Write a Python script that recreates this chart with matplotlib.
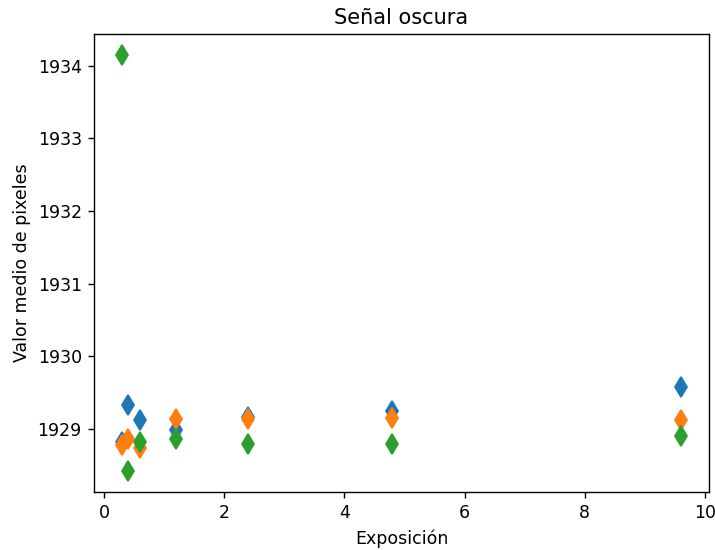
import matplotlib
matplotlib.use('Agg')
import matplotlib.pyplot as plt

# Exposure times and mean pixel value for three dark frames per exposure
exposicion = [0.3, 0.4, 0.6, 1.2, 2.4, 4.8, 9.6]
serie_1 = [1928.82, 1929.33, 1929.12, 1928.99, 1929.16, 1929.25, 1929.58]
serie_2 = [1928.78, 1928.86, 1928.74, 1929.14, 1929.14, 1929.15, 1929.12]
serie_3 = [1934.15, 1928.42, 1928.82, 1928.86, 1928.79, 1928.79, 1928.90]

fig = plt.figure(figsize=(5.72, 4.4), dpi=125)
ax = fig.add_axes([94/715, 1 - 492/550, 615/715, 458/550])

for serie in (serie_1, serie_2, serie_3):
    ax.plot(exposicion, serie, 'd', ms=8)

ax.set_title('Señal oscura')
ax.set_xlabel('Exposición')
ax.set_ylabel('Valor medio de pixeles')

fig.savefig('out.png', dpi=125)
